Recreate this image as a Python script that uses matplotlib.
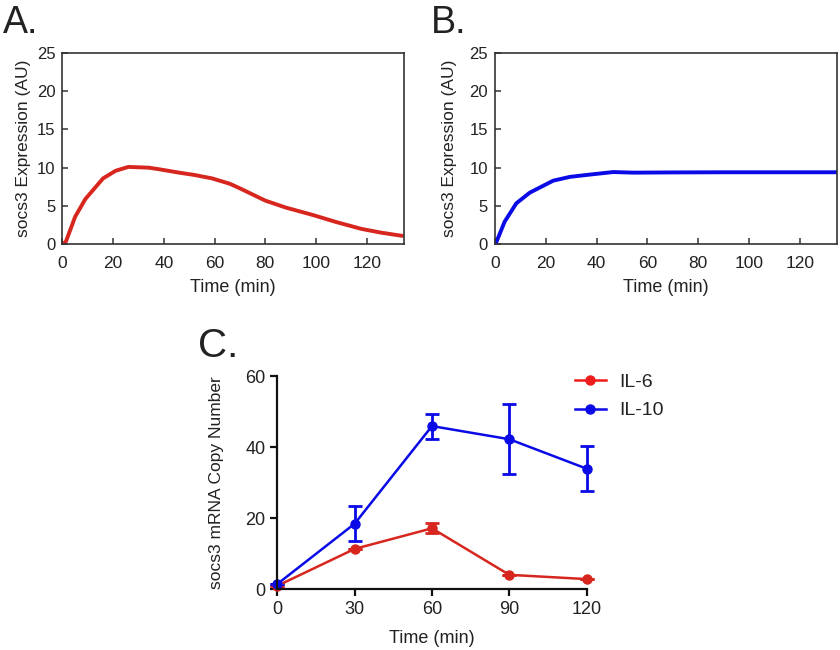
import matplotlib
matplotlib.use('Agg')
import matplotlib.pyplot as plt
from matplotlib.lines import Line2D

plt.rcParams['font.family'] = ['Liberation Sans', 'DejaVu Sans']
plt.rcParams['text.color'] = '#222222'
plt.rcParams['axes.labelcolor'] = '#222222'
plt.rcParams['xtick.color'] = '#222222'
plt.rcParams['ytick.color'] = '#222222'

# panel A: IL-6 model
a_time = [0.5, 1.4, 5, 9, 16, 21, 26, 34, 38, 46, 52, 59, 63, 66, 70, 80, 88, 99, 108, 118, 126, 134]
a_expr = [0.1, 0.4, 3.6, 5.9, 8.6, 9.6, 10.1, 10.0, 9.8, 9.35, 9.05, 8.6, 8.2, 7.9, 7.3, 5.7, 4.8, 3.8, 2.9, 2.0, 1.5, 1.1]

# panel B: IL-10 model
b_time = [0.3, 3.8, 8.4, 13.7, 22.9, 29.5, 37.4, 46.6, 54.5, 70, 90, 110, 134.5]
b_expr = [0.1, 2.95, 5.35, 6.74, 8.3, 8.8, 9.1, 9.43, 9.35, 9.38, 9.4, 9.4, 9.4]

# panel C: measured copy number
c_time = [0, 30, 60, 90, 120]
il6_mean = [0.9, 11.3, 17.1, 4.0, 2.8]
il6_err = [0, 0, 1.4, 0, 0]
il10_mean = [1.4, 18.4, 45.9, 42.2, 33.9]
il10_err = [0, 5.0, 3.5, 9.9, 6.3]

red = '#d7261e'
blue = '#0a0ae6'
dark = '#333333'

fig = plt.figure(figsize=(8.4, 6.5), dpi=100)

ax_a = fig.add_axes([0.0744, 0.6242, 0.4065, 0.2946])
ax_b = fig.add_axes([0.5893, 0.6242, 0.4071, 0.2946])

for ax, t, y, col in [(ax_a, a_time, a_expr, red), (ax_b, b_time, b_expr, blue)]:
    ax.plot(t, y, color=col, lw=2.8, solid_capstyle='round')
    ax.set_xlim(0, 134.7)
    ax.set_ylim(0, 25)
    ax.set_xticks(range(0, 121, 20))
    ax.set_yticks(range(0, 26, 5))
    ax.tick_params(direction='in', length=4.5, width=1.1, labelsize=12.5, color=dark)
    ax.tick_params(axis='x', pad=8.5)
    ax.tick_params(axis='y', pad=5, labelsize=12)
    for s in ax.spines.values():
        s.set_linewidth(1.2)
        s.set_color(dark)
    ax.set_xlabel('Time (min)', fontsize=13, labelpad=6)
    ax.set_ylabel('socs3 Expression (AU)', fontsize=12.5)

ax_a.yaxis.set_label_coords(-0.092, 0.5)
ax_b.yaxis.set_label_coords(-0.11, 0.5)

fig.text(0.003, 0.949, 'A.', fontsize=27)
fig.text(0.513, 0.949, 'B.', fontsize=27)
fig.text(0.236, 0.451, 'C.', fontsize=29)

ax_c = fig.add_axes([0.3301, 0.0938, 0.3683, 0.3277])
ax_c.errorbar(c_time, il6_mean, yerr=il6_err, color=red, lw=1.8, marker='o', ms=6.5,
              capsize=5, capthick=2, elinewidth=2, clip_on=False)
ax_c.errorbar(c_time, il10_mean, yerr=il10_err, color=blue, lw=1.8, marker='o', ms=6.5,
              capsize=5, capthick=2, elinewidth=2, clip_on=False)
ax_c.set_xlim(0, 120)
ax_c.set_ylim(0, 60)
ax_c.set_xticks(c_time)
ax_c.set_yticks([0, 20, 40, 60])
ax_c.spines['top'].set_visible(False)
ax_c.spines['right'].set_visible(False)
for s in ('left', 'bottom'):
    ax_c.spines[s].set_linewidth(1.6)
    ax_c.spines[s].set_color('#111111')
ax_c.tick_params(direction='out', length=5, width=1.6, labelsize=13, color='#111111')
ax_c.set_xlabel('Time (min)', fontsize=13)
ax_c.set_ylabel('socs3 mRNA Copy Number', fontsize=12.5)
ax_c.xaxis.set_label_coords(0.5, -0.19)
ax_c.yaxis.set_label_coords(-0.172, 0.5)

handles = [Line2D([], [], color='#ee1c1c', lw=1.8, marker='o', ms=6.5),
           Line2D([], [], color=blue, lw=1.8, marker='o', ms=6.5)]
ax_c.legend(handles, ['IL-6', 'IL-10'], loc='center left', bbox_to_anchor=(0.684, 0.39),
            bbox_transform=fig.transFigure, frameon=False, fontsize=14,
            borderaxespad=0, borderpad=0, handlelength=1.6, handletextpad=0.7,
            labelspacing=0.55)

fig.savefig('out.png', dpi=100)
